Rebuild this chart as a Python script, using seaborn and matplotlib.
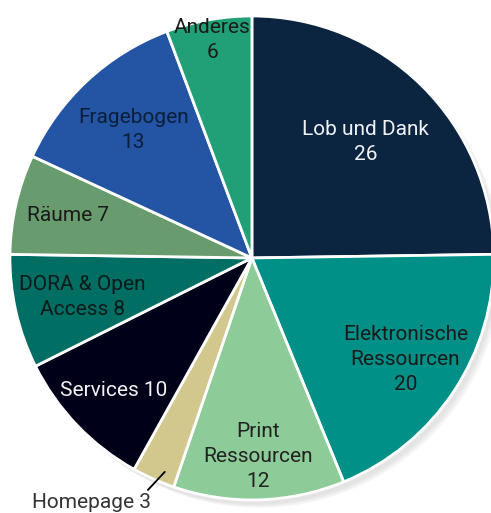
import numpy as np
import matplotlib
matplotlib.use("Agg")
import matplotlib.pyplot as plt
import seaborn as sns

sns.set_theme(style="white")
plt.rcParams['font.family'] = ['Roboto', 'DejaVu Sans']

# daten
kategorien = ["Lob und Dank", "Elektronische\nRessourcen", "Print\nRessourcen", "Homepage",
              "Services", "DORA & Open\nAccess", "Räume", "Fragebogen", "Anderes"]
werte = [26, 20, 12, 3, 10, 8, 7, 13, 6]
# wert in neuer zeile oder gleiche zeile
trenner = ["\n", "\n", "\n", " ", " ", " ", " ", "\n", "\n"]

farben = ["#0b2440", "#009088", "#8dcb98", "#d2c88e", "#000018",
          "#006e63", "#689b6e", "#2355a4", "#21a077"]
textfarben = ["#eef2f5", "#1a1a1a", "#222222", "#333333", "#f2f2f2",
              "#0d1a1a", "#1a1a1a", "#0b1f3a", "#1a1a1a"]
label_r = [0.67, 0.76, 0.82, None, 0.79, 0.72, 0.78, 0.72, 0.915]

fig = plt.figure(figsize=(4.91, 5.13), dpi=100)
ax = fig.add_axes([0, 0, 1, 1])
ax.axis("off")

# schatten
for i, a in enumerate([0.05, 0.05, 0.06]):
    ax.add_patch(plt.Circle((0.015 + 0.008 * i, -0.02 - 0.006 * i), 1.0, color="#555555",
                            alpha=a, zorder=0, lw=0))

wedges, _ = ax.pie(werte, colors=farben, startangle=90, counterclock=False, radius=1.0,
                   wedgeprops=dict(edgecolor="white", linewidth=2))
ax.set_xlim(-1.041, 0.988)
ax.set_ylim(-1.054, 1.066)
ax.set_aspect("auto")

for w, k, v, t, tc, r in zip(wedges, kategorien, werte, trenner, textfarben, label_r):
    mid = np.deg2rad((w.theta1 + w.theta2) / 2)
    txt = f"{k}{t}{v}"
    if r is None:
        # homepage aussen mit linie
        ax.plot([-0.36, -0.43], [-0.884, -0.959], color="black", lw=1.3)
        ax.text(-0.661, -1.01, txt, ha="center", va="center", fontsize=15, color=tc)
        continue
    ax.text(r * np.cos(mid), r * np.sin(mid), txt, ha="center", va="center",
            fontsize=15, color=tc, linespacing=1.4)

fig.savefig("out.png", dpi=100)
